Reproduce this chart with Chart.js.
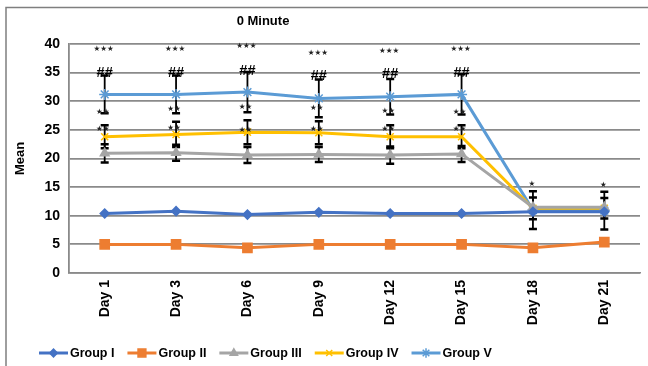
<!DOCTYPE html>
<html><head><meta charset="utf-8">
<script src="https://cdn.jsdelivr.net/npm/chart.js@4.4.1/dist/chart.umd.min.js"></script>
<style>html,body{margin:0;padding:0;background:#fff;}#wrap{position:relative;width:648px;height:366px;}</style>
</head><body><div id="wrap"><canvas id="c" width="648" height="366"></canvas></div>
<script>
// ---- data ----
const days = ['Day 1','Day 3','Day 6','Day 9','Day 12','Day 15','Day 18','Day 21'];
const groupNames = ['Group I','Group II','Group III','Group IV','Group V'];
const groupI   = [10.4, 10.8, 10.2, 10.6, 10.4, 10.4, 10.7, 10.7];
const groupII  = [5.0, 5.0, 4.4, 5.0, 5.0, 5.0, 4.4, 5.4];
const groupIII = [20.9, 21.0, 20.6, 20.7, 20.6, 20.8, 11.5, 11.5];
const groupIV  = [23.8, 24.2, 24.6, 24.5, 23.8, 23.8, 11.3, 11.3];
const groupV   = [31.2, 31.2, 31.6, 30.5, 30.8, 31.2, 11.0, 10.9];
const errIII = [1.6, 1.4, 1.4, 1.3, 1.5, 1.4, 0, 0];
const errIV  = [2.0, 2.2, 2.1, 2.0, 2.0, 2.0, 1.9, 1.8];
const errV   = [3.3, 3.3, 3.5, 3.3, 3.1, 3.5, 3.3, 3.3];
// significance marks (y positions in data units)
const tripleStarY = [39.1, 39.1, 39.6, 38.5, 38.8, 39.1, null, null];
const hashY       = [35.0, 35.0, 35.3, 34.4, 34.7, 35.0, null, null];
const dblStarHiY  = [28.2, 28.7, 29.0, 28.9, 28.3, 28.2, null, null];
const dblStarLoY  = [25.2, 25.4, 24.9, 25.1, 25.1, 25.2, null, null];
const singleStarY = [null, null, null, null, null, null, 15.5, 15.4];
const yTicks = [0, 5, 10, 15, 20, 25, 30, 35, 40];

const colors = ['#4472C4','#ED7D31','#A5A5A5','#FFC000','#5B9BD5'];
const styles = ['rectRot','rect','triangle','crossRot','star'];
const radii  = [4.5, 6.5, 5, 5, 5.5];
const series = [groupI, groupII, groupIII, groupIV, groupV];
const errs = [null, null, errIII, errIV, errV];
const FONT = '"Liberation Sans", Arial, sans-serif';

const deco = {
  id: 'deco',
  beforeDraw(chart) {
    const ctx = chart.ctx;
    ctx.save();
    ctx.fillStyle = '#fff';
    ctx.fillRect(0, 0, chart.width, chart.height);
    ctx.strokeStyle = '#7f7f7f';
    ctx.lineWidth = 1.5;
    ctx.strokeRect(6, 7.5, 800, 500);
    ctx.restore();
  },
  beforeDatasetsDraw(chart) {
    const ctx = chart.ctx, xs = chart.scales.x, ys = chart.scales.y;
    ctx.save();
    ctx.strokeStyle = '#000';
    errs.forEach((arr, d) => {
      if (!arr) return;
      arr.forEach((e, i) => {
        if (!e) return;
        const v = series[d][i];
        const x = xs.getPixelForValue(i);
        const yt = ys.getPixelForValue(v + e), yb = ys.getPixelForValue(v - e);
        ctx.lineWidth = 1.8;
        ctx.beginPath(); ctx.moveTo(x, yt); ctx.lineTo(x, yb); ctx.stroke();
        ctx.lineWidth = 2.5;
        ctx.beginPath();
        ctx.moveTo(x - 4, yt); ctx.lineTo(x + 4, yt);
        ctx.moveTo(x - 4, yb); ctx.lineTo(x + 4, yb);
        ctx.stroke();
      });
    });
    ctx.restore();
  },
  afterDraw(chart) {
    const ctx = chart.ctx, xs = chart.scales.x, ys = chart.scales.y;
    ctx.save();
    ctx.fillStyle = '#000';
    ctx.textAlign = 'center';
    ctx.textBaseline = 'middle';
    const put = (arr, txt, font, dx) => {
      arr.forEach((v, i) => {
        if (v == null) return;
        ctx.font = font;
        ctx.fillText(txt, xs.getPixelForValue(i) + dx, ys.getPixelForValue(v));
      });
    };
    ctx.fillStyle = '#222';
    put(tripleStarY, '★★★', '7.5px "DejaVu Sans"', -1);
    put(dblStarHiY, '★★', '7.5px "DejaVu Sans"', -2);
    put(dblStarLoY, '★★', '7.5px "DejaVu Sans"', -2);
    put(singleStarY, '★', '7.5px "DejaVu Sans"', -1);
    ctx.fillStyle = '#000';
    put(hashY, '##', 'bold 14.5px ' + FONT, 0);
    // title
    ctx.font = 'bold 13px ' + FONT;
    ctx.fillText('0 Minute', 263, 21);
    // y axis title
    ctx.save();
    ctx.translate(20, (chart.chartArea.top + chart.chartArea.bottom) / 2);
    ctx.rotate(-Math.PI / 2);
    ctx.font = 'bold 13px ' + FONT;
    ctx.fillText('Mean', 0, 0);
    ctx.restore();
    // legend
    let x = 39;
    const ly = 353;
    ctx.font = 'bold 12.5px ' + FONT;
    ctx.textAlign = 'left';
    groupNames.forEach((name, d) => {
      ctx.strokeStyle = colors[d];
      ctx.lineWidth = 3;
      ctx.beginPath(); ctx.moveTo(x, ly); ctx.lineTo(x + 29, ly); ctx.stroke();
      ctx.fillStyle = colors[d];
      ctx.lineWidth = 1.5;
      Chart.helpers.drawPoint(ctx, {pointStyle: styles[d], radius: radii[d] * 0.85, rotation: 0, borderWidth: 1.5}, x + 14.5, ly);
      ctx.fillStyle = '#000';
      ctx.fillText(name, x + 31, ly + 1);
      x += 31 + ctx.measureText(name).width + 13;
    });
    ctx.restore();
  }
};

new Chart(document.getElementById('c'), {
  type: 'line',
  data: {
    labels: days,
    datasets: series.map((s, d) => ({
      label: groupNames[d],
      data: s,
      borderColor: colors[d],
      backgroundColor: colors[d],
      pointStyle: styles[d],
      pointRadius: radii[d],
      pointBorderWidth: 1.5,
      pointBorderColor: colors[d],
      pointBackgroundColor: colors[d],
      borderWidth: 3,
      tension: 0
    }))
  },
  options: {
    responsive: false,
    animation: false,
    devicePixelRatio: 1,
    layout: { padding: { top: 44, right: 5, left: 0, bottom: 0 } },
    plugins: { legend: { display: false }, title: { display: false }, tooltip: { enabled: false } },
    scales: {
      x: {
        offset: true,
        grid: { display: false, drawTicks: false },
        border: { display: true, color: '#8a8a8a', width: 1.5 },
        ticks: { color: '#000', font: { family: FONT, weight: 'bold', size: 14 }, minRotation: 90, maxRotation: 90, padding: 7, autoSkip: false },
        afterFit(s) { s.height = 93; }
      },
      y: {
        min: 0, max: 40,
        afterBuildTicks(s) { s.ticks = yTicks.map(v => ({ value: v })); },
        grid: { color: '#8a8a8a', lineWidth: 1.8, drawTicks: false },
        border: { display: true, color: '#8a8a8a', width: 1.8 },
        ticks: { color: '#000', font: { family: FONT, weight: 'bold', size: 14 }, padding: 9 },
        afterFit(s) { s.width = 69; }
      }
    }
  },
  plugins: [deco]
});
</script></body></html>
